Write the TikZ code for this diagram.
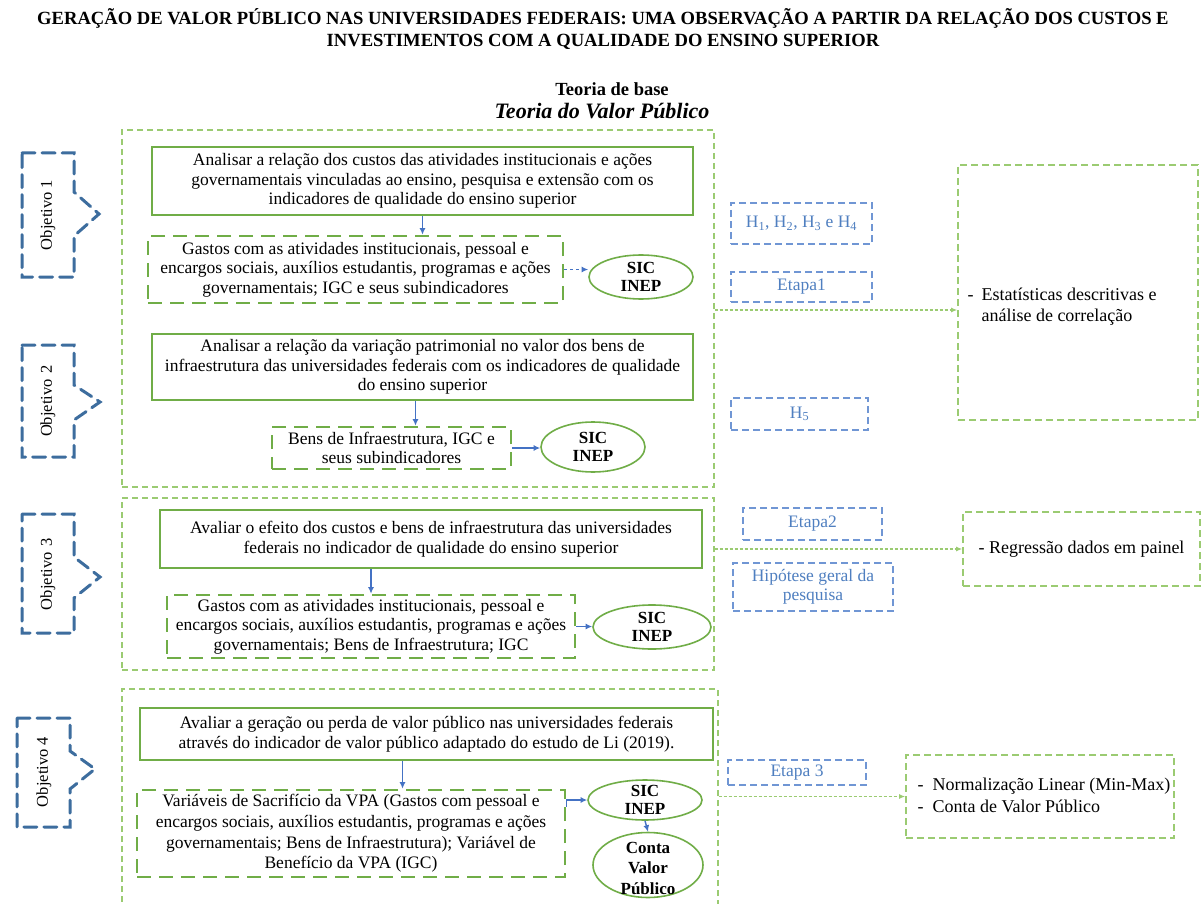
\documentclass[tikz,border=0pt]{standalone}
\usepackage{fontspec}
\setmainfont{Liberation Serif}
\usetikzlibrary{arrows.meta,shapes.geometric}
\definecolor{gline}{HTML}{70AD47}
\definecolor{gdash}{HTML}{9BCB72}
\definecolor{bline}{HTML}{4472C4}
\definecolor{bbox}{HTML}{7096D4}
\definecolor{btext}{HTML}{4F7FC0}
\definecolor{objc}{HTML}{3D6D9E}
\begin{document}
\begin{tikzpicture}[x=1pt,y=-1pt,
  body/.style={font=\fontsize{17.5}{19.5}\selectfont, align=center, text=black},
  solidbox/.style={draw=gline, line width=2pt, body, inner sep=0pt},
  dashbox/.style={draw=gline, line width=2.6pt, dash pattern=on 14pt off 8pt, body, inner sep=0pt},
  group/.style={draw=gdash, line width=1.3pt, dash pattern=on 6pt off 4pt, inner sep=0pt},
  result/.style={draw=gdash, line width=1.6pt, dash pattern=on 7pt off 4pt, inner sep=0pt},
  resulttext/.style={font=\fontsize{18}{21}\selectfont, text=black},
  tag/.style={draw=bbox, line width=1.6pt, dash pattern=on 7pt off 4pt, inner sep=0pt,
    font=\fontsize{17.5}{19.5}\selectfont, text=btext, align=center},
  src/.style={ellipse, draw=gline, line width=1.6pt, inner sep=0pt},
  srctext/.style={font=\bfseries\fontsize{17}{18.5}\selectfont, align=center},
  barrow/.style={draw=bline, line width=1.4pt, -{Latex[length=6.5pt,width=6pt]}},
  gflow/.style={draw=gdash, line width=1.2pt, dash pattern=on 3pt off 2pt, -{Latex[length=6pt,width=5pt]}},
  objective/.style={draw=objc, line width=3pt, dash pattern=on 13pt off 7pt, line cap=round},
  objtext/.style={rotate=90, font=\fontsize{16.5}{19}\selectfont}
]
\useasboundingbox[fill=white] (0,0) rectangle (1204,904);

% title
\node[font=\bfseries\fontsize{18.6}{22}\selectfont, align=center] (title) at (603,29)
  {GERAÇÃO DE VALOR PÚBLICO NAS UNIVERSIDADES FEDERAIS: UMA OBSERVAÇÃO A PARTIR DA RELAÇÃO DOS CUSTOS E\\
   INVESTIMENTOS COM A QUALIDADE DO ENSINO SUPERIOR};

% base theory
\node[font=\bfseries\fontsize{18.5}{20}\selectfont] (base) at (612,89) {Teoria de base};
\node[font=\bfseries\itshape\fontsize{22}{24}\selectfont] (theory) at (602,111) {Teoria do Valor Público};

% groups of objectives
\node[group, minimum width=592pt, minimum height=357pt] (g1) at (418,308.5) {};
\node[group, minimum width=592pt, minimum height=172pt] (g3) at (418,584) {};
\node[group, minimum width=596pt, minimum height=231pt] (g4) at (420,804.5) {};

% objective 1
\node[solidbox, minimum width=541pt, minimum height=68pt] (a1) at (422.5,181)
  {Analisar a relação dos custos das atividades institucionais e ações\\
   governamentais vinculadas ao ensino, pesquisa e extensão com os\\
   indicadores de qualidade do ensino superior};
\node[dashbox, minimum width=415pt, minimum height=67pt] (b1) at (355.5,269.5)
  {Gastos com as atividades institucionais, pessoal e\\
   encargos sociais, auxílios estudantis, programas e ações\\
   governamentais; IGC e seus subindicadores};
\node[src, minimum width=104pt, minimum height=44pt] (e1) at (641,277) {};
\node[srctext] (e1t) at (e1.center) {SIC\\INEP};

% objective 2
\node[solidbox, minimum width=541pt, minimum height=66pt] (a2) at (422.5,367)
  {Analisar a relação da variação patrimonial no valor dos bens de\\
   infraestrutura das universidades federais com os indicadores de qualidade\\
   do ensino superior};
\node[dashbox, minimum width=239pt, minimum height=42pt] (b2) at (391.5,448)
  {Bens de Infraestrutura, IGC e\\ seus subindicadores};
\node[src, minimum width=104pt, minimum height=50pt] (e2) at (593,447) {};
\node[srctext] (e2t) at (e2.center) {SIC\\INEP};

% objective 3
\node[solidbox, minimum width=542pt, minimum height=58pt] (a3) at (431,539)
  {Avaliar o efeito dos custos e bens de infraestrutura das universidades\\
   federais no indicador de qualidade do ensino superior};
\node[dashbox, minimum width=408pt, minimum height=63pt] (b3) at (371,626.5)
  {Gastos com as atividades institucionais, pessoal e\\
   encargos sociais, auxílios estudantis, programas e ações\\
   governamentais; Bens de Infraestrutura; IGC};
\node[src, minimum width=118pt, minimum height=44pt] (e3) at (652,627) {};
\node[srctext] (e3t) at (e3.center) {SIC\\INEP};

% objective 4
\node[solidbox, minimum width=573pt, minimum height=52pt] (a4) at (426.5,734)
  {Avaliar a geração ou perda de valor público nas universidades federais\\
   através do indicador de valor público adaptado do estudo de Li (2019).};
\node[dashbox, minimum width=428pt, minimum height=87pt, font=\fontsize{17.5}{20.7}\selectfont] (b4) at (351,833.5)
  {Variáveis de Sacrifício da VPA (Gastos com pessoal e\\
   encargos sociais, auxílios estudantis, programas e ações\\
   governamentais; Bens de Infraestrutura); Variável de\\
   Benefício da VPA (IGC)};
\node[src, minimum width=114pt, minimum height=40pt] (e4) at (645,800) {};
\node[srctext] (e4t) at (e4.center) {SIC\\INEP};
\node[src, minimum width=110pt, minimum height=65pt] (e5) at (648,865) {};
\node[srctext, font=\bfseries\fontsize{17}{20.5}\selectfont] (e5t) at ([yshift=-3pt]e5.center) {Conta\\Valor\\Público};

% flows inside the groups
\draw[barrow] (a1.south) -- (a1.south |- b1.north);
\draw[barrow, dashed] (b1.east) -- (b1.east -| e1.west);
\draw[barrow] ([xshift=-7pt]a2.south) -- ([xshift=-7pt]a2.south |- b2.north);
\draw[barrow] (b2.east) -- (b2.east -| e2.west);
\draw[barrow] (b3.north |- a3.south) -- (b3.north);
\draw[barrow] (b3.east) -- (b3.east -| e3.west);
\draw[barrow] ([xshift=-24pt]a4.south) -- ([xshift=-24pt]a4.south |- b4.north);
\draw[barrow] ([yshift=-18pt]b4.north east) |- (e4.west);
\draw[barrow] (e4.south) -- (e5.north);

% hypotheses and stages
\node[tag, minimum width=141pt, minimum height=41pt] (h14) at (801.5,223.5)
  {H\textsubscript{1}, H\textsubscript{2}, H\textsubscript{3} e H\textsubscript{4}};
\node[tag, minimum width=141pt, minimum height=30pt] (st1) at (801.5,287) {Etapa1};
\node[tag, minimum width=137pt, minimum height=32pt] (h5) at (799.5,414) {H\textsubscript{5}};
\node[tag, minimum width=139pt, minimum height=32pt] (st2) at (812.5,524) {Etapa2};
\node[tag, minimum width=160pt, minimum height=48pt] (hg) at (813,587) {Hipótese geral da\\ pesquisa};
\node[tag, minimum width=138pt, minimum height=25pt] (st3) at (797,772.5) {Etapa 3};

% methods
\node[result, minimum width=240pt, minimum height=255pt] (r1) at (1078,292.5) {};
\node[resulttext, anchor=west] (r1t) at (964,307)
  {\begin{tabular}{@{}l@{\hspace{8pt}}l@{}}-&Estatísticas descritivas e\\ &análise de correlação\end{tabular}};
\node[result, minimum width=237pt, minimum height=74pt] (r2) at (1081.5,549) {};
\node[resulttext] (r2t) at (r2.center) {- Regressão dados em painel};
\node[result, minimum width=268pt, minimum height=83pt] (r3) at (1040,796.5) {};
\node[resulttext, anchor=west] (r3t) at (914,797)
  {\begin{tabular}{@{}l@{\hspace{9pt}}l@{}}-&Normalização Linear (Min-Max)\\[1pt]-&Conta de Valor Público\end{tabular}};

\draw[gflow] (g1.east |- 0,310) -- (r1.west |- 0,310);
\draw[gflow] (r2.west -| g3.east) -- (r2.west);
\draw[gflow] (r3.west -| g4.east) -- (r3.west);

% objective callouts
\draw[objective] (22,153) -- (74,153) -- (74,192) -- (99,214) -- (74,236) -- (74,277) -- (22,277) -- cycle;
\node[objtext] (o1) at (48,215) {Objetivo 1};
\draw[objective] (22,345) -- (74,345) -- (74,385) -- (100,402) -- (74,420) -- (74,457) -- (22,457) -- cycle;
\node[objtext] (o2) at (48,401) {Objetivo\hspace{6pt}2};
\draw[objective] (22,514) -- (74,514) -- (74,557) -- (100,577) -- (74,598) -- (74,633) -- (22,633) -- cycle;
\node[objtext] (o3) at (48,574) {Objetivo\hspace{6pt}3};
\draw[objective] (17,718) -- (70,718) -- (70,751) -- (95,769) -- (70,789) -- (70,827) -- (17,827) -- cycle;
\node[objtext] (o4) at (44,772) {Objetivo 4};
\end{tikzpicture}
\end{document}
